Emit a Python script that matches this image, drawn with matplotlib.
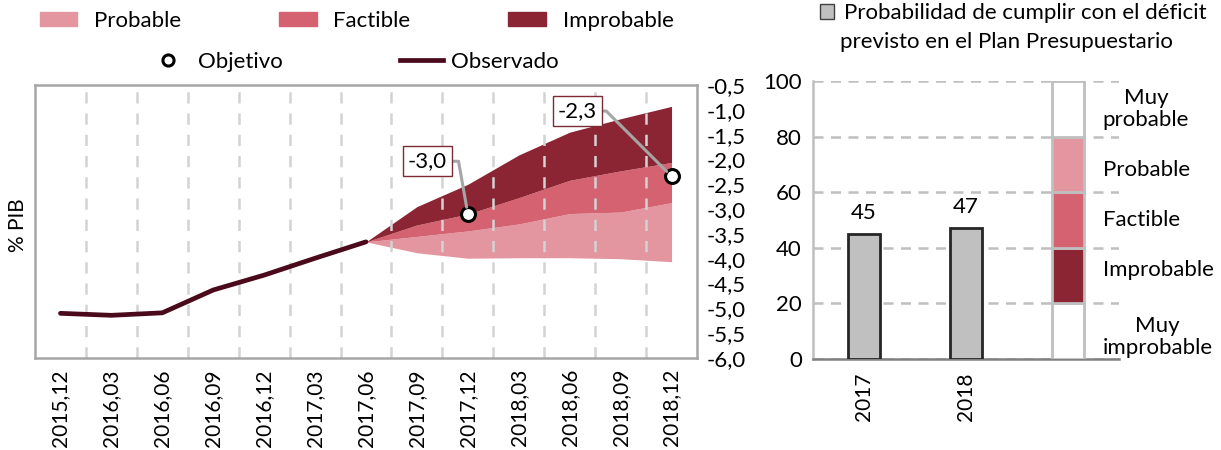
import matplotlib
matplotlib.use("Agg")
import matplotlib.pyplot as plt
from matplotlib.patches import Patch
from matplotlib.lines import Line2D
import numpy as np

plt.rcParams['font.family'] = ['Lato', 'DejaVu Sans']
plt.rcParams['font.size'] = 16

# Datos panel izquierdo
fechas = ['2015,12', '2016,03', '2016,06', '2016,09', '2016,12', '2017,03', '2017,06',
          '2017,09', '2017,12', '2018,03', '2018,06', '2018,09', '2018,12']
observado = [-5.10, -5.14, -5.09, -4.63, -4.33, -3.99, -3.66]
# bandas del abanico desde 2017,06
banda_inf = [-3.66, -3.88, -3.99, -3.98, -3.98, -4.00, -4.06]
banda_prob = [-3.66, -3.55, -3.44, -3.30, -3.09, -3.06, -2.87]
banda_fact = [-3.66, -3.32, -3.10, -2.77, -2.42, -2.23, -2.06]
banda_sup = [-3.66, -2.95, -2.50, -1.91, -1.45, -1.18, -0.93]
objetivo_idx = [8, 12]
objetivo_val = [-3.10, -2.34]
objetivo_txt = ['-3,0', '-2,3']

# Datos panel derecho
anios = ['2017', '2018']
probabilidad = [45, 47]
escala = [20, 20, 20, 20, 20]
escala_txt = ['Muy\nimprobable', 'Improbable', 'Factible', 'Probable', 'Muy\nprobable']

c_prob = '#E3969F'
c_fact = '#D46270'
c_impr = '#8B2533'
c_obs = '#4A0A1C'
c_grid = '#D3D3D3'
c_frame = '#A6A6A6'

fig = plt.figure(figsize=(12.21, 4.5), dpi=100)
ax1 = fig.add_axes([35/1221, 1-358/450, (697-35)/1221, (358-85)/450])
ax2 = fig.add_axes([813/1221, 1-359/450, (1119-813)/1221, (359-81)/450])

x = np.arange(len(fechas))
xf = x[6:]
ax1.fill_between(xf, banda_inf, banda_prob, color=c_prob, lw=0)
ax1.fill_between(xf, banda_prob, banda_fact, color=c_fact, lw=0)
ax1.fill_between(xf, banda_fact, banda_sup, color=c_impr, lw=0)
ax1.plot(x[:7], observado, color=c_obs, lw=3.4, solid_capstyle='round')
ax1.plot(objetivo_idx, objetivo_val, 'o', ms=10, mfc='white', mec='black', mew=2.2, zorder=5)

offsets = [(-29, 38), (-68, 47)]
angles = [100, 135]
for i, v, t, off, ang in zip(objetivo_idx, objetivo_val, objetivo_txt, offsets, angles):
    ax1.annotate(t, xy=(i, v), xytext=off, textcoords='offset points', ha='center', va='center',
                 fontsize=16,
                 bbox=dict(boxstyle='square,pad=0.22', fc='white', ec='#7B2A36', lw=1),
                 arrowprops=dict(arrowstyle='-', color='#A6A6A6', lw=2.2, relpos=(1, 0.5),
                                 connectionstyle=f'angle,angleA=0,angleB={ang},rad=0',
                                 shrinkA=0, shrinkB=5),
                 zorder=6)

ax1.set_xlim(-0.5, len(fechas) - 0.5)
ax1.set_ylim(-6, -0.5)
ax1.set_xticks(x)
ax1.set_xticklabels(fechas, rotation=90, fontsize=15)
ax1.set_xticks(x[:-1] + 0.5, minor=True)
ax1.grid(axis='x', which='minor', color=c_grid, ls=(0, (4.5, 4)), lw=1.8)
ax1.tick_params(axis='x', which='both', length=0, pad=8)
ax1.yaxis.tick_right()
ax1.set_yticks(np.arange(-6, -0.49, 0.5))
ax1.set_yticklabels([f'{v:.1f}'.replace('.', ',') for v in np.arange(-6, -0.49, 0.5)])
ax1.tick_params(axis='y', length=0, pad=7)
for s in ax1.spines.values():
    s.set_color(c_frame)
    s.set_linewidth(1.8)
fig.text(18/1221, 1-225/450, '% PIB', rotation=90, ha='center', va='center', fontsize=15)

# Panel derecho
xb = np.arange(len(anios))
ax2.bar(xb, probabilidad, width=0.31, color='#C0C0C0', edgecolor='#262626', lw=2, zorder=3)
for xi, p in zip(xb, probabilidad):
    ax2.text(xi, p + 4, str(p), ha='center', va='bottom', fontsize=16)
colores_esc = ['white', c_impr, c_fact, c_prob, 'white']
base = 0
for h, c in zip(escala, colores_esc):
    ax2.bar(len(anios), h, bottom=base, width=0.31, color=c, edgecolor='#BFBFBF', lw=2, zorder=3)
    base += h
pos_txt = [8, 32, 50, 68, 90]
for p, t in zip(pos_txt, escala_txt):
    ax2.text(2.34, p, t, ha='left', va='center', multialignment='center', fontsize=16,
             linespacing=1.1, clip_on=False)

ax2.set_xlim(-0.5, 2.5)
ax2.set_ylim(0, 100)
ax2.set_yticks(range(0, 101, 20))
ax2.set_xticks(xb)
ax2.set_xticklabels(anios, rotation=90, fontsize=15)
ax2.grid(axis='y', color='#BFBFBF', ls=(0, (4, 3)), lw=1.8, zorder=0)
ax2.tick_params(length=0, pad=8)
ax2.tick_params(axis='x', pad=10)
ax2.spines['top'].set_visible(False)
ax2.spines['right'].set_visible(False)
ax2.spines['left'].set_color('#BFBFBF')
ax2.spines['left'].set_linewidth(1.8)
ax2.spines['bottom'].set_color('#808080')
ax2.spines['bottom'].set_linewidth(1.8)

# Leyendas
h1 = [Patch(color=c_prob), Patch(color=c_fact), Patch(color=c_impr)]
fig.legend(h1, ['Probable', 'Factible', 'Improbable'], loc='center', ncol=3,
           bbox_to_anchor=(0.292, 1-21/450), frameon=False, handlelength=1.7, handleheight=0.55,
           handletextpad=0.75, columnspacing=4.4, fontsize=16)
h2 = [Line2D([], [], marker='o', ls='none', ms=8, mfc='white', mec='black', mew=2.2),
      Line2D([], [], color=c_obs, lw=3.4)]
fig.legend(h2, ['Objetivo', 'Observado'], loc='center', ncol=2,
           bbox_to_anchor=(0.289, 1-62/450), frameon=False, handlelength=1.9,
           handletextpad=0.4, columnspacing=5.3, fontsize=16)
fig.legend([Patch(fc='#C0C0C0', ec='#404040', lw=1)], ['Probabilidad de cumplir con el déficit'],
           loc='center left', bbox_to_anchor=(800/1221, 1-13/450), frameon=False,
           handlelength=0.65, handleheight=0.65, handletextpad=0.45, fontsize=16)
fig.text(840/1221, 1-42/450, 'previsto en el Plan Presupuestario', ha='left', va='center', fontsize=16)

fig.savefig('out.png', dpi=100)
